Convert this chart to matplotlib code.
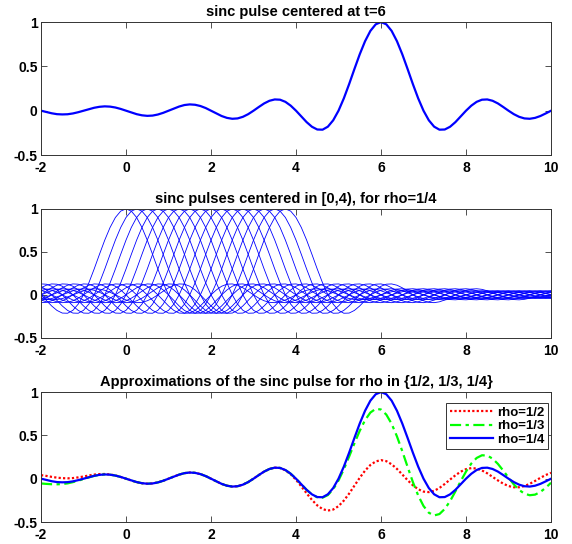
import numpy as np
import matplotlib
matplotlib.use("Agg")
import matplotlib.pyplot as plt

plt.rcParams["font.family"] = ["Liberation Sans", "DejaVu Sans"]
plt.rcParams["font.weight"] = "bold"
plt.rcParams["axes.unicode_minus"] = False

# sinc pulse samples at offsets 0, 1/8, 2/8, ... 10 (the pulse is even)
pulse_half = [
    1.000, 0.974, 0.900, 0.784, 0.637, 0.471, 0.300, 0.139, 0.000, -0.108,
    -0.180, -0.214, -0.212, -0.181, -0.129, -0.065, -0.000, 0.057, 0.100, 0.124,
    0.127, 0.112, 0.082, 0.042, 0.000, -0.039, -0.069, -0.087, -0.091, -0.081,
    -0.060, -0.031, -0.000, 0.030, 0.053, 0.067, 0.071, 0.064, 0.047, 0.025,
    0.000, -0.024, -0.043, -0.055, -0.058, -0.052, -0.039, -0.021, -0.000, 0.020,
    0.036, 0.046, 0.049, 0.044, 0.033, 0.018, 0.000, -0.017, -0.031, -0.040,
    -0.042, -0.039, -0.029, -0.015, -0.000, 0.015, 0.027, 0.035, 0.037, 0.034,
    0.026, 0.014, 0.000, -0.013, -0.024, -0.031, -0.034, -0.031, -0.023, -0.012,
    -0.000,
]
pulse_step = 0.125
pulse_center = 6.0

# centers of the shifted pulses for rho=1/4
centers = [0.0, 0.25, 0.5, 0.75, 1.0, 1.25, 1.5, 1.75,
           2.0, 2.25, 2.5, 2.75, 3.0, 3.25, 3.5, 3.75]

# approximations on t = -2, -1.875, ..., 10
approx_half = [
    0.041, 0.032, 0.021, 0.012, 0.006, 0.004, 0.007, 0.015, 0.025, 0.037,
    0.047, 0.053, 0.054, 0.049, 0.037, 0.020, 0.000, -0.021, -0.039, -0.052,
    -0.058, -0.055, -0.043, -0.024, 0.000, 0.025, 0.047, 0.064, 0.071, 0.067,
    0.053, 0.030, -0.000, -0.031, -0.060, -0.081, -0.091, -0.087, -0.069, -0.039,
    0.000, 0.042, 0.082, 0.112, 0.127, 0.123, 0.097, 0.051, -0.013, -0.089,
    -0.169, -0.245, -0.308, -0.351, -0.368, -0.356, -0.317, -0.253, -0.172, -0.080,
    0.011, 0.093, 0.158, 0.199, 0.214, 0.202, 0.166, 0.113, 0.049, -0.017,
    -0.076, -0.122, -0.149, -0.155, -0.140, -0.107, -0.061, -0.010, 0.039, 0.081,
    0.110, 0.122, 0.117, 0.095, 0.062, 0.021, -0.020, -0.057, -0.085, -0.099,
    -0.099, -0.085, -0.059, -0.026, 0.010, 0.042, 0.068,
]
approx_third = [
    -0.055, -0.060, -0.064, -0.065, -0.062, -0.054, -0.040, -0.023, -0.004, 0.015,
    0.032, 0.044, 0.049, 0.046, 0.036, 0.020, -0.000, -0.021, -0.039, -0.052,
    -0.058, -0.055, -0.043, -0.024, -0.000, 0.025, 0.047, 0.064, 0.071, 0.067,
    0.053, 0.030, 0.000, -0.031, -0.060, -0.081, -0.091, -0.087, -0.069, -0.039,
    0.000, 0.042, 0.082, 0.112, 0.127, 0.124, 0.100, 0.057, -0.000, -0.065,
    -0.129, -0.182, -0.215, -0.219, -0.189, -0.122, -0.021, 0.108, 0.255, 0.408,
    0.553, 0.676, 0.763, 0.806, 0.798, 0.739, 0.633, 0.488, 0.318, 0.137,
    -0.039, -0.194, -0.315, -0.393, -0.424, -0.408, -0.349, -0.259, -0.147, -0.029,
    0.082, 0.175, 0.239, 0.270, 0.267, 0.231, 0.171, 0.094, 0.012, -0.066,
    -0.130, -0.173, -0.191, -0.184, -0.153, -0.105, -0.047,
]
t_start = -2.0

xticks = [-2, 0, 2, 4, 6, 8, 10]
yticks = [-0.5, 0, 0.5, 1]
ytick_labels = ["-0.5", "0", "0.5", "1"]

half = np.array(pulse_half)
pulse = np.concatenate([half[:0:-1], half])
offsets = (np.arange(len(pulse)) - (len(half) - 1)) * pulse_step
t = t_start + np.arange(len(approx_half)) * pulse_step


def style_axes(ax, title):
    ax.set_xlim(-2, 10)
    ax.set_ylim(-0.5, 1)
    ax.set_xticks(xticks)
    ax.set_xticklabels([str(v) for v in xticks])
    ax.set_yticks(yticks)
    ax.set_yticklabels(ytick_labels)
    ax.tick_params(direction="in", top=True, right=True, length=4,
                   width=0.6, labelsize=10, color="#333333")
    ax.tick_params(axis="x", pad=4.5)
    ax.tick_params(axis="y", pad=2.5)
    for sp in ax.spines.values():
        sp.set_linewidth(0.7)
        sp.set_color("#333333")
    ax.set_title(title, fontsize=10.5, fontweight="bold", pad=4)


fig = plt.figure(figsize=(5.72, 5.44), dpi=100)
left, width = 0.0717, 0.8916
ax1 = fig.add_axes([left, 0.715, width, 0.2445])
ax2 = fig.add_axes([left, 0.379, width, 0.237])
ax3 = fig.add_axes([left, 0.0404, width, 0.239])

ax1.plot(pulse_center + offsets, pulse, color=(0, 0, 1), lw=1.6)
style_axes(ax1, "sinc pulse centered at t=6")

for c in centers:
    ax2.plot(c + offsets, pulse, color=(0, 0, 1), lw=0.6)
style_axes(ax2, "sinc pulses centered in [0,4), for rho=1/4")

ax3.plot(t, approx_half, color=(1, 0, 0), lw=1.6, linestyle=(0, (1, 1)),
         label="rho=1/2")
ax3.plot(t, approx_third, color=(0, 1, 0), lw=1.6, linestyle=(0, (5, 2, 1.5, 2)),
         label="rho=1/3")
ax3.plot(pulse_center + offsets, pulse, color=(0, 0, 1), lw=1.6, label="rho=1/4")
style_axes(ax3, "Approximations of the sinc pulse for rho in {1/2, 1/3, 1/4}")
leg = ax3.legend(loc="upper right", fontsize=9.5, frameon=True, fancybox=False,
                 edgecolor="#333333", framealpha=1, borderpad=0.25,
                 labelspacing=0.1, handlelength=3.3, handletextpad=0.3,
                 borderaxespad=0.25, bbox_to_anchor=(1.0, 0.94))
leg.get_frame().set_linewidth(0.7)
for txt in leg.get_texts():
    txt.set_fontweight("bold")

fig.savefig("out.png")
